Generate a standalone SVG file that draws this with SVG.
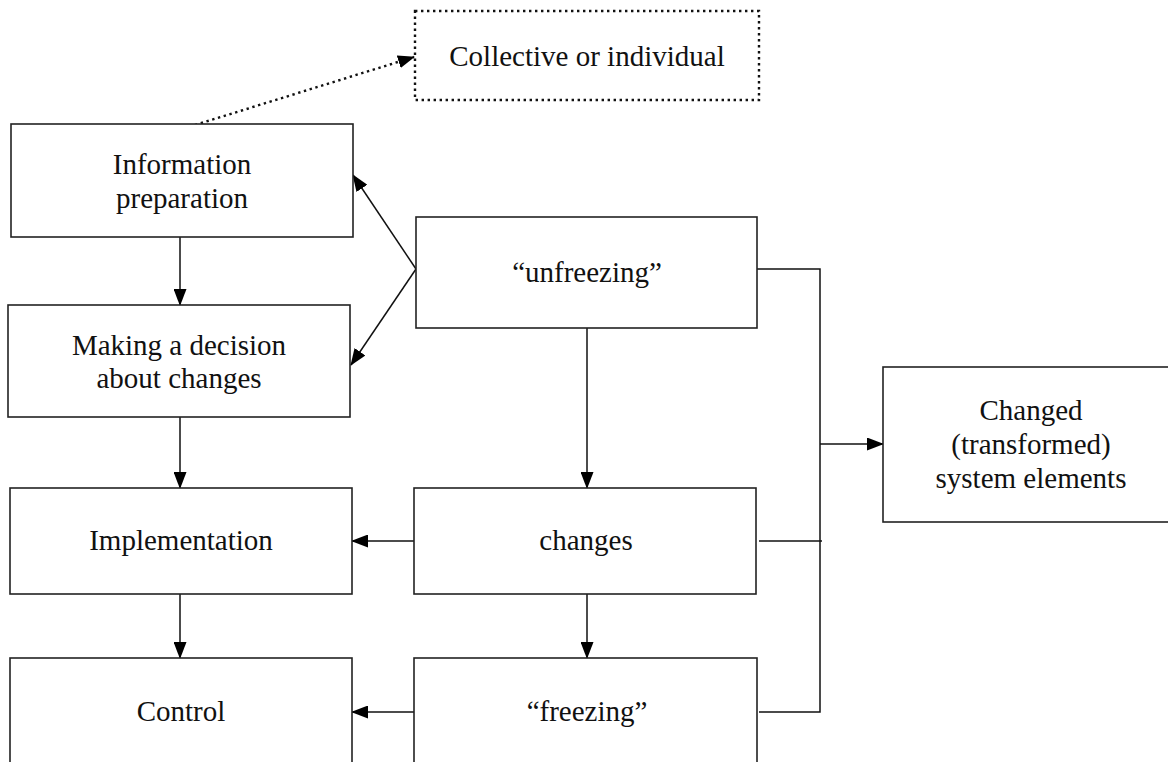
<svg xmlns="http://www.w3.org/2000/svg" width="1168" height="762" viewBox="0 0 1168 762">
<style>
.box{fill:#fff;stroke:#222;stroke-width:1.6}
.dot{fill:none;stroke:#111;stroke-width:2.4;stroke-dasharray:2.4 3.6}
.t{font-family:"Liberation Serif","Times New Roman",serif;font-size:29px;fill:#111;text-anchor:middle}
.c{fill:none;stroke:#111;stroke-width:1.5}
</style>
<defs>
<marker id="ah" markerUnits="userSpaceOnUse" markerWidth="17" markerHeight="13" refX="16" refY="6.5" orient="auto">
<path d="M0,0 L17,6.5 L0,13 Z" fill="#000"/>
</marker>
</defs>
<rect width="1168" height="762" fill="#fff"/>
<g id="connectors">
<line class="dot" x1="195" y1="125" x2="414" y2="57" marker-end="url(#ah)"/>
<line class="c" x1="416" y1="269" x2="353" y2="175" marker-end="url(#ah)"/>
<line class="c" x1="416" y1="269" x2="351" y2="365" marker-end="url(#ah)"/>
<line class="c" x1="180" y1="237" x2="180" y2="305" marker-end="url(#ah)"/>
<line class="c" x1="180" y1="417" x2="180" y2="488" marker-end="url(#ah)"/>
<line class="c" x1="180" y1="594" x2="180" y2="658" marker-end="url(#ah)"/>
<line class="c" x1="587" y1="328" x2="587" y2="488" marker-end="url(#ah)"/>
<line class="c" x1="587" y1="594" x2="587" y2="658" marker-end="url(#ah)"/>
<line class="c" x1="414" y1="541" x2="352" y2="541" marker-end="url(#ah)"/>
<line class="c" x1="414" y1="712" x2="352" y2="712" marker-end="url(#ah)"/>
<polyline class="c" points="756,269 820,269 820,712 759,712"/>
<line class="c" x1="759" y1="541" x2="822" y2="541"/>
<line class="c" x1="820" y1="444" x2="883" y2="444" marker-end="url(#ah)"/>
</g>
<g id="collective">
<rect class="dot" x="415" y="11" width="344" height="89"/>
<text class="t" x="587" y="66">Collective or individual</text>
</g>
<g id="info">
<rect class="box" x="11" y="124" width="342" height="113"/>
<text class="t" x="182" y="174">Information</text>
<text class="t" x="182" y="208">preparation</text>
</g>
<g id="decision">
<rect class="box" x="8" y="305" width="342" height="112"/>
<text class="t" x="179" y="355">Making a decision</text>
<text class="t" x="179" y="388">about changes</text>
</g>
<g id="implementation">
<rect class="box" x="10" y="488" width="342" height="106"/>
<text class="t" x="181" y="550">Implementation</text>
</g>
<g id="control">
<rect class="box" x="10" y="658" width="342" height="120"/>
<text class="t" x="181" y="721">Control</text>
</g>
<g id="unfreezing">
<rect class="box" x="416" y="217" width="341" height="111"/>
<text class="t" x="587" y="282">“unfreezing”</text>
</g>
<g id="changes">
<rect class="box" x="414" y="488" width="342" height="106"/>
<text class="t" x="586" y="550">changes</text>
</g>
<g id="freezing">
<rect class="box" x="414" y="658" width="343" height="120"/>
<text class="t" x="587" y="721">“freezing”</text>
</g>
<g id="changed">
<rect class="box" x="883" y="367" width="300" height="155"/>
<text class="t" x="1031" y="420">Changed</text>
<text class="t" x="1031" y="454">(transformed)</text>
<text class="t" x="1031" y="488">system elements</text>
</g>
</svg>
